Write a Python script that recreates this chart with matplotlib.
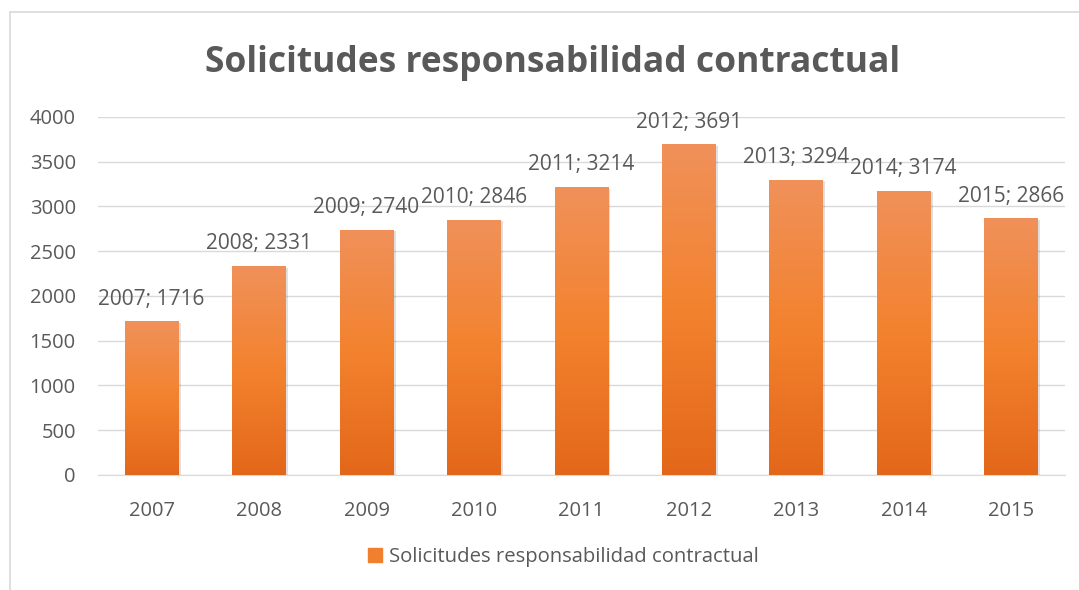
import matplotlib.pyplot as plt
import numpy as np
from matplotlib.colors import LinearSegmentedColormap
from matplotlib.patches import Rectangle

# Data
years = ['2007', '2008', '2009', '2010', '2011', '2012', '2013', '2014', '2015']
solicitudes = [1716, 2331, 2740, 2846, 3214, 3691, 3294, 3174, 2866]
series_name = 'Solicitudes responsabilidad contractual'

plt.rcParams['font.family'] = ['Open Sans', 'DejaVu Sans']
text_color = '#595959'
grid_color = '#D9D9D9'

fig = plt.figure(figsize=(10.79, 5.90), dpi=100)
ax = fig.add_axes([0.0908, 0.195, 0.896, 0.607])

x = np.arange(len(years))
bars = ax.bar(x, solicitudes, width=0.5, color='#F07F30', zorder=3,
              label=series_name)

# vertical gradient on each bar, lighter on top
cmap = LinearSegmentedColormap.from_list('orange_grad', ['#E3671A', '#F3822E', '#F0915A'])
grad = np.linspace(0, 1, 256).reshape(-1, 1)
for b in bars:
    x0, w, h = b.get_x(), b.get_width(), b.get_height()
    # soft shadow
    ax.add_patch(Rectangle((x0 + 0.02, -15), w, h, color='#000000', alpha=0.12,
                           zorder=2, lw=0))
    im = ax.imshow(grad, extent=(x0, x0 + w, 0, h), origin='lower', cmap=cmap,
                   aspect='auto', zorder=3.5)
    im.set_clip_path(b)

for xi, v, yr in zip(x, solicitudes, years):
    ax.annotate(f'{yr}; {v}', (xi, v), xytext=(0, 8.5), textcoords='offset points',
                ha='center', va='bottom', fontsize=15, color=text_color, zorder=5)

ax.set_xlim(-0.5, len(years) - 0.5)
ax.set_ylim(0, 4000)
ax.set_yticks(np.arange(0, 4001, 500))
ax.set_xticks(x)
ax.set_xticklabels(years)
ax.yaxis.grid(True, color=grid_color, lw=1.0, zorder=0)
ax.set_axisbelow(True)
for s in ['top', 'right', 'left']:
    ax.spines[s].set_visible(False)
ax.spines['bottom'].set_color(grid_color)
ax.tick_params(axis='both', length=0, labelsize=14.5, colors=text_color)
ax.tick_params(axis='x', pad=18.5)
ax.tick_params(axis='y', pad=16)

fig.text(0.512, 0.893, series_name, ha='center', va='center', fontsize=25.5,
         fontweight='bold', color=text_color)

handle = Rectangle((0, 0), 1, 1, color='#F07F30')
fig.legend([handle], [series_name], loc='center', bbox_to_anchor=(0.522, 0.056),
           frameon=False, fontsize=14.6, handlelength=0.7, handleheight=0.7,
           handletextpad=0.35, labelcolor=text_color)

# chart border
fig.patches.append(Rectangle((10 / 1079, -0.1), 1.2, (1 - 12 / 590) + 0.1,
                             transform=fig.transFigure, fill=False,
                             edgecolor=grid_color, lw=1.2))

fig.savefig('out.png', dpi=100)
